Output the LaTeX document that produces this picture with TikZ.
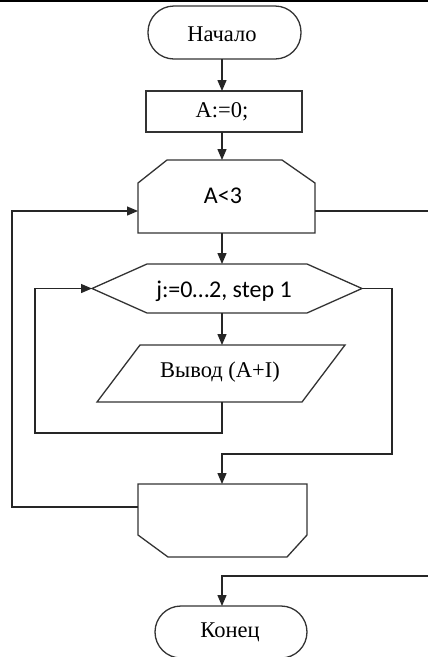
\documentclass[tikz,border=0pt]{standalone}
\usepackage{fontspec}
\setmainfont{Liberation Serif}
\newfontfamily\calibri{Carlito}
\usetikzlibrary{arrows.meta,calc}
\begin{document}
\begin{tikzpicture}[x=1pt,y=-1pt,
 line/.style={draw=black!85, line width=1.3pt},
 arr/.style={line, -{Triangle[length=11pt,width=9pt]}},
 shapeline/.style={draw=black!80, line width=1.3pt, line join=miter},
 serif/.style={font=\fontsize{22.5}{25}\selectfont, inner sep=0pt},
 sans/.style={font=\calibri\fontsize{24}{26}\selectfont, inner sep=0pt},
 box/.style={draw=none, inner sep=0pt, outer sep=0pt},
 term/.style={shapeline, rounded corners=26pt, inner sep=0pt, outer sep=0pt}]
\useasboundingbox (0,0) rectangle (428,657);
\clip (0,0) rectangle (428,657);
\fill[white] (0,0) rectangle (428,657);
\coordinate (tl) at (0,1);
\coordinate (tr) at (428,1);
\draw[black, line width=2pt] (tl) -- (tr);

\coordinate (ax) at (222,0);

% start terminal
\node[term, minimum width=153pt, minimum height=53pt] (start) at (224.5,32.5) {};
\node[serif] (tstart) at (222,34) {Начало};

% init
\node[shapeline, inner sep=0pt, outer sep=0pt, minimum width=156pt, minimum height=41pt] (init) at (224,111.5) {};
\node[serif] (tinit) at (222,112) {A:=0;};

% loop begin
\node[box, minimum width=177pt, minimum height=73pt] (lb) at (226.5,196.5) {};
\draw[shapeline] (lb.south west) -- ($(lb.north west)+(0,23)$) -- ($(lb.north west)+(29,0)$)
  -- ($(lb.north east)+(-33,0)$) -- ($(lb.north east)+(0,23)$) -- (lb.south east) -- cycle;
\node[sans] (tlb) at (223,196) {A<3};

% for loop hexagon
\node[box, minimum width=270pt, minimum height=49pt] (cyc) at (227,288.5) {};
\draw[shapeline] (cyc.west) -- ($(cyc.north west)+(55,0)$) -- ($(cyc.north east)+(-55,0)$)
  -- (cyc.east) -- ($(cyc.south east)+(-55,0)$) -- ($(cyc.south west)+(55,0)$) -- cycle;
\node[sans] (tcyc) at (224,291) {j:=0…2, step 1};

% output parallelogram
\node[box, minimum width=248pt, minimum height=57pt] (out) at (221,373.5) {};
\draw[shapeline] ($(out.north west)+(43,0)$) -- (out.north east) -- ($(out.south east)+(-43,0)$)
  -- (out.south west) -- cycle;
\node[serif] (tout) at (220,372) {Вывод (A+I)};

% loop end
\node[box, minimum width=169pt, minimum height=73pt] (le) at (222.5,520.5) {};
\draw[shapeline] (le.north west) -- (le.north east) -- ($(le.south east)+(0,-22)$)
  -- ($(le.south east)+(-20,0)$) -- ($(le.south west)+(30,0)$) -- ($(le.south west)+(0,-22)$) -- cycle;

% end terminal
\node[term, minimum width=152pt, minimum height=52pt] (end) at (231,632) {};
\node[serif] (tend) at (230,632) {Конец};

% connectors
\coordinate (ib) at (35,433);
\coordinate (ie) at (392,454);
\coordinate (ob) at (12,507);
\coordinate (lbin) at (0,211);
\coordinate (oe) at (428,211);
\coordinate (oe2) at (428,576);

\draw[arr] (ax |- start.south) -- (ax |- init.north);
\draw[arr] (ax |- init.south) -- (ax |- lb.north);
\draw[arr] (ax |- lb.south) -- (ax |- cyc.north);
\draw[arr] (ax |- cyc.south) -- (ax |- out.north);
\draw[arr] (ax |- out.south) |- (ib) -- (ib |- cyc.west) -- (cyc.west);
\draw[arr] (cyc.east) -| (ie) -- (ax |- ie) -- (ax |- le.north);
\draw[arr] (le.west |- ob) -- (ob) -- (ob |- lbin) -- (lb.west |- lbin);
\draw[line] (lb.east |- oe) -- (oe);
\draw[arr] (oe2) -- (ax |- oe2) -- (ax |- end.north);
\end{tikzpicture}
\end{document}
